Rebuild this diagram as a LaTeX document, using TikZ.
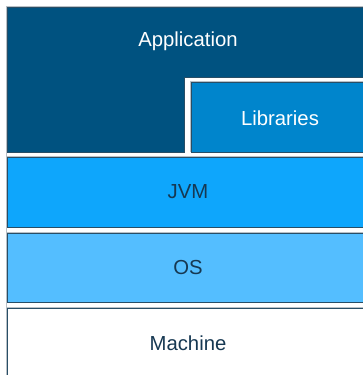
\documentclass[tikz,border=0pt]{standalone}
\usepackage{fontspec}
\setmainfont{Liberation Sans}
\definecolor{appblue}{RGB}{0,82,128}
\definecolor{libblue}{RGB}{0,133,204}
\definecolor{jvmblue}{RGB}{14,166,252}
\definecolor{osblue}{RGB}{84,190,255}
\definecolor{edge}{RGB}{40,78,102}
\definecolor{darktext}{RGB}{22,56,82}
\definecolor{shade}{RGB}{185,192,198}
\tikzset{
  layer/.style={draw=edge, line width=0.9pt},
  shadowline/.style={draw=shade, line width=1pt},
  lighttext/.style={text=white, font=\fontsize{20.3}{23}\selectfont},
  darklabel/.style={text=darktext, font=\fontsize{20.3}{23}\selectfont},
}
\begin{document}
\begin{tikzpicture}[x=1pt,y=-1pt]
\useasboundingbox (0,0) rectangle (363,375);
\clip (0,0) rectangle (363,375);
% soft shadows along the top and left edges
\draw[shadowline] (6.2,380) -- (6.2,6.2) -- (370,6.2);
\draw[shadowline] (6.2,156.2) -- (370,156.2);
\draw[shadowline] (6.2,232.2) -- (370,232.2);
\draw[shadowline] (6.2,307.2) -- (370,307.2);
\draw[shadowline] (190.2,152) -- (190.2,81.2) -- (370,81.2);
% application block with a notch for the libraries
\draw[layer, fill=appblue] (7,7) -- (370,7) -- (370,77) -- (184,77) -- (184,152) -- (7,152) -- cycle;
\node[lighttext] (app) at (188,41) {Application};
\draw[layer, fill=libblue] (191,82) rectangle (370,152);
\node[lighttext] (lib) at (280,118) {Libraries};
% lower layers
\draw[layer, fill=jvmblue] (7,157) rectangle (370,227);
\node[darklabel] (jvm) at (188,192) {JVM};
\draw[layer, fill=osblue] (7,233) rectangle (370,302);
\node[darklabel] (os) at (188,268) {OS};
\draw[layer, fill=white] (7,308) rectangle (370,390);
\node[darklabel] (machine) at (188,343) {Machine};
\end{tikzpicture}
\end{document}
